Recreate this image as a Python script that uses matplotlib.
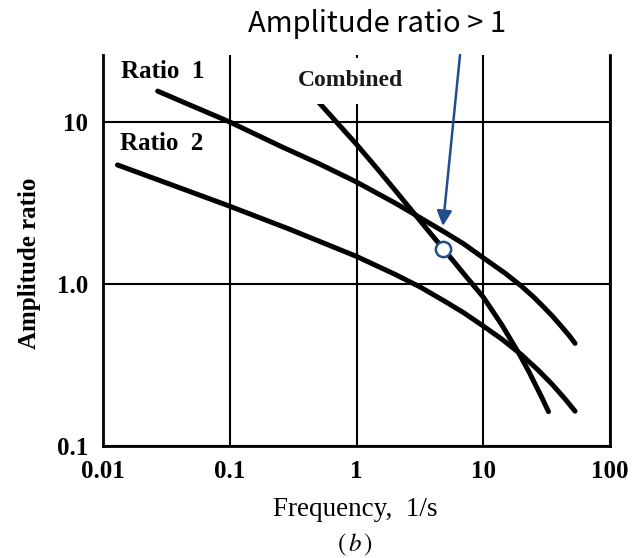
import matplotlib
matplotlib.use("Agg")
import matplotlib.pyplot as plt
from matplotlib.ticker import FixedLocator, FixedFormatter, NullLocator

# ---- data ----
ratio1_freq = [0.027, 0.05, 0.1, 0.25, 0.5, 1.0, 2.0, 2.8, 5.0, 7.0, 10.0, 15.0,
               20.0, 25.0, 30.0, 35.0, 42.0, 48.0, 53.0]
ratio1_amp = [15.5, 12.6, 10.0, 7.1, 5.55, 4.26, 3.17, 2.72, 2.08, 1.77, 1.45, 1.16,
              0.97, 0.83, 0.72, 0.635, 0.54, 0.477, 0.43]

ratio2_freq = [0.013, 0.03, 0.1, 0.3, 1.0, 2.0, 3.2, 5.0, 7.0, 10.0, 14.0, 20.0,
               27.0, 35.0, 44.0, 53.0]
ratio2_amp = [5.43, 4.27, 3.02, 2.17, 1.48, 1.15, 0.955, 0.78, 0.665, 0.55, 0.457, 0.366,
              0.295, 0.24, 0.196, 0.164]

combined_freq = [0.46, 0.7, 1.0, 1.5, 2.0, 2.76, 3.8, 5.0, 7.0, 10.0, 14.0, 19.3,
                 23.0, 26.0, 29.0, 32.7]
combined_amp = [14.3, 9.93, 7.28, 5.01, 3.82, 2.81, 2.07, 1.60, 1.16, 0.83, 0.56, 0.368,
                0.286, 0.236, 0.199, 0.163]

marker_freq = [4.83]
marker_amp = [1.64]
arrow_tip = (4.8, 2.28)

x_ticks = [0.01, 0.1, 1, 10, 100]
x_tick_labels = ["0.01", "0.1", "1", "10", "100"]
y_ticks = [0.1, 1.0, 10]
y_tick_labels = ["0.1", "1.0", "10"]

SERIF = ["Liberation Serif", "DejaVu Serif"]
BLUE = "#1F4E8A"

W, H = 633, 558
fig = plt.figure(figsize=(W / 100, H / 100), dpi=100)
ax = fig.add_axes([103 / W, 1 - 446 / H, (610 - 103) / W, (446 - 55) / H])
ax.set_xscale("log")
ax.set_yscale("log")
ax.set_xlim(0.01, 100)
ax.set_ylim(0.1, 25.9)

for s in ["left", "right", "bottom"]:
    ax.spines[s].set_linewidth(2.0)
    ax.spines[s].set_color("black")
ax.spines["top"].set_visible(False)

ax.xaxis.set_major_locator(FixedLocator(x_ticks))
ax.xaxis.set_major_formatter(FixedFormatter(x_tick_labels))
ax.yaxis.set_major_locator(FixedLocator(y_ticks))
ax.yaxis.set_major_formatter(FixedFormatter(y_tick_labels))
ax.xaxis.set_minor_locator(NullLocator())
ax.yaxis.set_minor_locator(NullLocator())
ax.tick_params(axis="x", length=0, pad=10, labelsize=18)
ax.tick_params(axis="y", length=0, pad=10.5, labelsize=18)
for lab in ax.get_xticklabels() + ax.get_yticklabels():
    lab.set_fontfamily(SERIF)
    lab.set_fontweight("bold")
ax.grid(True, which="major", color="black", linewidth=1.5)
ax.set_axisbelow(True)

lw = 3.6
for fx, fy in [(ratio1_freq, ratio1_amp), (ratio2_freq, ratio2_amp),
               (combined_freq, combined_amp)]:
    ax.plot(fx, fy, color="black", lw=lw, solid_capstyle="round",
            solid_joinstyle="round", zorder=4)

ax.plot(marker_freq, marker_amp, linestyle="none", marker="o", markersize=11,
        markerfacecolor="white", markeredgecolor=BLUE, markeredgewidth=1.8, zorder=6)

# curve labels
fig.text(163 / W, 1 - 72 / H, "Ratio  1", family=SERIF, fontsize=18, fontweight="bold",
         ha="center", va="center")
fig.text(162 / W, 1 - 144 / H, "Ratio  2", family=SERIF, fontsize=18, fontweight="bold",
         ha="center", va="center")
fig.text(351 / W, 1 - 81 / H, "Combined", family=SERIF, fontsize=17, fontweight="bold",
         ha="center", va="center", color="#1a1a1a", zorder=3,
         bbox=dict(facecolor="white", edgecolor="none", pad=9))

# annotation
fig.text(377 / W, 1 - 24 / H, "Amplitude ratio > 1", family=["Noto Sans CJK KR", "DejaVu Sans"],
         fontsize=21, ha="center", va="center")
ax.annotate("", xy=arrow_tip, xycoords="data",
            xytext=(460 / W, 1 - 55 / H), textcoords="figure fraction",
            arrowprops=dict(arrowstyle="-|>,head_length=0.9,head_width=0.45",
                            color=BLUE, lw=1.8, shrinkA=0, shrinkB=0),
            zorder=7, annotation_clip=False)

# axis labels
fig.text(355 / W, 1 - 510 / H, "Frequency,  1/s", family=SERIF, fontsize=19.5,
         ha="center", va="center")
fig.text(30 / W, 1 - 263 / H, "Amplitude ratio", family=SERIF, fontsize=18, fontweight="bold",
         rotation=90, ha="center", va="center")
plt.rcParams["mathtext.fontset"] = "stix"
fig.text(355 / W, 1 - 545 / H, r"$(\,\mathit{b}\,)$", fontsize=18, ha="center", va="center")

fig.savefig("out.png", dpi=100)
